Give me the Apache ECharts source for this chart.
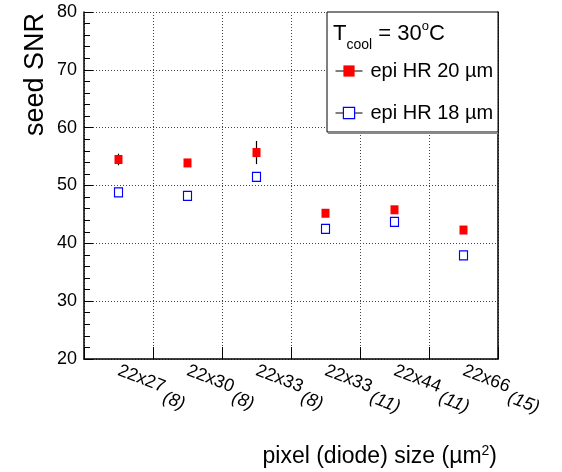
<!DOCTYPE html>
<html>
<head>
<meta charset="utf-8">
<script src="https://cdn.jsdelivr.net/npm/echarts@6/dist/echarts.min.js"></script>
<style>
html,body{margin:0;padding:0;background:#fff;}
#c{width:562px;height:472px;}
</style>
</head>
<body>
<div id="c"></div>
<script>
// ---- data ----
var categories = ['22x27 (8)', '22x30 (8)', '22x33 (8)', '22x33 (11)', '22x44 (11)', '22x66 (15)'];
var snr20 = [54.5, 53.9, 55.7, 45.2, 45.8, 42.3];
var err20 = [1.0, 0.5, 2.0, 0.5, 0.5, 0.5];
var snr18 = [48.8, 48.2, 51.5, 42.5, 43.7, 37.9];
var err18 = [0.4, 0.4, 0.4, 0.4, 0.4, 0.4];
var yTicks = [20, 30, 40, 50, 60, 70, 80];
var seriesNames = ['epi HR 20 \u00b5m', 'epi HR 18 \u00b5m'];

var FONT = '"Liberation Sans", Arial, sans-serif';

function pts(vals) { return vals.map(function (v, i) { return [i, v]; }); }
function errs(vals, e) { return vals.map(function (v, i) { return [i, v, e[i]]; }); }

function errRender(params, api) {
  var x = api.value(0), y = api.value(1), e = api.value(2);
  var p1 = api.coord([x, y + e]);
  var p2 = api.coord([x, y - e]);
  return {
    type: 'line',
    shape: { x1: p1[0], y1: p1[1], x2: p2[0], y2: p2[1] },
    style: { stroke: '#000', lineWidth: 1.2 }
  };
}

var chart = echarts.init(document.getElementById('c'), null, { renderer: 'canvas' });
chart.setOption({
  animation: false,
  backgroundColor: '#fff',
  grid: { left: 84, right: 64, top: 12, bottom: 113 },
  xAxis: {
    type: 'category',
    data: categories,
    boundaryGap: true,
    axisLine: { show: true, lineStyle: { color: '#000', width: 1.5 } },
    axisTick: { show: true, inside: true, length: 12, lineStyle: { color: '#000' } },
    splitLine: { show: true, lineStyle: { color: '#444', type: [1, 2], width: 1 } },
    axisLabel: {
      rotate: -21,
      margin: 11,
      interval: 0,
      formatter: function (v) {
        var parts = v.split(' ');
        return '{a|' + parts[0] + '}{s| }{b|' + parts[1] + '}';
      },
      rich: {
        a: { fontFamily: FONT, fontSize: 18, color: '#000', lineHeight: 36, verticalAlign: 'middle' },
        s: { fontFamily: FONT, fontSize: 10, lineHeight: 36, verticalAlign: 'middle' },
        b: { fontFamily: FONT, fontSize: 18, color: '#000', fontStyle: 'italic', lineHeight: 20, verticalAlign: 'bottom' }
      }
    }
  },
  yAxis: [{
    type: 'value',
    min: yTicks[0],
    max: yTicks[yTicks.length - 1],
    interval: 10,
    axisLine: { show: true, lineStyle: { color: '#000', width: 1.5 } },
    axisTick: { show: true, inside: true, length: 9, lineStyle: { color: '#000' } },
    minorTick: { show: true, splitNumber: 5, length: 6, lineStyle: { color: '#000' } },
    splitLine: { show: true, lineStyle: { color: '#444', type: [1, 2], width: 1 } },
    axisLabel: { fontFamily: FONT, fontSize: 18, color: '#000', margin: 7 }
  }, {
    type: 'value',
    position: 'right',
    min: yTicks[0],
    max: yTicks[yTicks.length - 1],
    interval: 10,
    axisLine: { show: true, lineStyle: { color: '#000', width: 1.5 } },
    axisTick: { show: false },
    axisLabel: { show: false },
    splitLine: { show: false }
  }],
  legend: {
    orient: 'vertical',
    left: 335,
    top: 61,
    padding: 0,
    itemGap: 22,
    itemWidth: 27,
    itemHeight: 14,
    z: 10,
    textStyle: { fontFamily: FONT, fontSize: 20, color: '#000', padding: [0, 0, 0, 3] },
    data: [
      { name: seriesNames[0], itemStyle: { color: '#ff0000', borderWidth: 0 }, lineStyle: { color: '#000', width: 1, opacity: 1 } },
      { name: seriesNames[1], itemStyle: { color: '#fff', borderColor: '#0000ff', borderWidth: 1.2 }, lineStyle: { color: '#000', width: 1, opacity: 1 } }
    ]
  },
  graphic: [
    {
      type: 'rect', z: 8,
      shape: { x: 327, y: 12, width: 171, height: 120 },
      style: { fill: '#fff', stroke: '#000', lineWidth: 1 }
    },
    {
      type: 'line', z: 8,
      shape: { x1: 328, y1: 133, x2: 498, y2: 133 },
      style: { stroke: '#888', lineWidth: 2 }
    },
    {
      type: 'text', z: 12, left: 333, top: 16,
      style: {
        text: '{t|T}{sub|cool}{t| = 30}{sup|o}{t|C}',
        rich: {
          t: { fontFamily: FONT, fontSize: 22, color: '#000', lineHeight: 36, verticalAlign: 'middle' },
          sub: { fontFamily: FONT, fontSize: 14, color: '#000', lineHeight: 36, verticalAlign: 'bottom' },
          sup: { fontFamily: FONT, fontSize: 13, color: '#000', lineHeight: 36, verticalAlign: 'top', padding: [4, 0, 0, 0] }
        }
      }
    },
    {
      type: 'text', z: 12, left: 22, top: 13,
      style: {
        text: 'seed SNR',
        fontFamily: FONT, fontSize: 27, fill: '#000'
      },
      rotation: Math.PI / 2,
      originX: 0, originY: 0
    },
    {
      type: 'text', z: 12, right: 65, top: 444,
      style: {
        text: 'pixel (diode) size (\u00b5m{sup|2})',
        fontFamily: FONT, fontSize: 23, fill: '#000',
        rich: {
          sup: { fontFamily: FONT, fontSize: 14, color: '#000', verticalAlign: 'top', lineHeight: 26 }
        }
      }
    }
  ],
  series: [
    {
      type: 'custom', name: 'err20', renderItem: errRender, data: errs(snr20, err20), z: 3, silent: true
    },
    {
      type: 'custom', name: 'err18', renderItem: errRender, data: errs(snr18, err18), z: 3, silent: true
    },
    {
      name: seriesNames[0], type: 'line', data: pts(snr20),
      symbol: 'rect', symbolSize: [8, 9], showSymbol: true,
      lineStyle: { width: 0, opacity: 0 },
      itemStyle: { color: '#ff0000' }, z: 5
    },
    {
      name: seriesNames[1], type: 'line', data: pts(snr18),
      symbol: 'rect', symbolSize: [8, 9], showSymbol: true,
      lineStyle: { width: 0, opacity: 0 },
      itemStyle: { color: '#fff', borderColor: '#0000ff', borderWidth: 1.2 }, z: 5
    }
  ]
});
</script>
</body>
</html>
